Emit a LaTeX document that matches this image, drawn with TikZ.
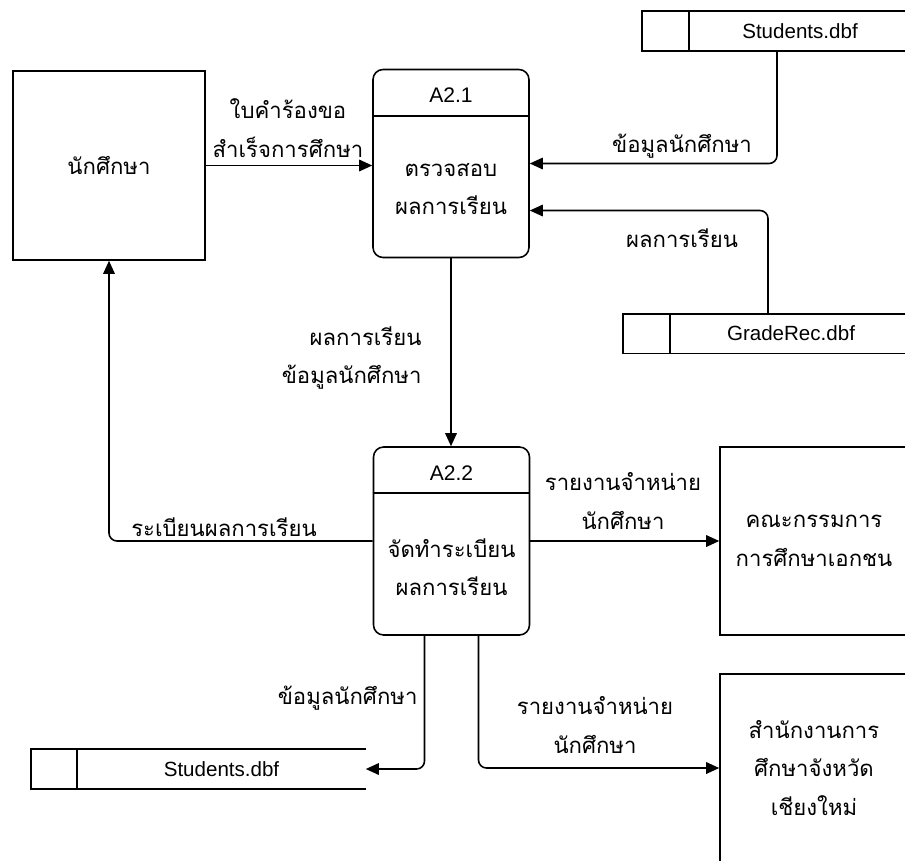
\documentclass[tikz,border=0pt]{standalone}
\usepackage{fontspec}
\setmainfont{Liberation Sans}
\newfontfamily\thaifont[Script=Thai]{Loma}
\usetikzlibrary{arrows.meta,calc}

\tikzset{
  thai/.style={font=\thaifont\fontsize{12.6}{22}\selectfont, align=center, inner sep=1pt},
  entity/.style={draw, thai, minimum width=3.76cm, minimum height=3.76cm},
  process/.style={draw, rounded corners=0.2cm, minimum width=3.12cm, minimum height=3.76cm},
  store/.style={minimum height=0.76cm, inner sep=0pt, font=\fontsize{11.7}{14}\selectfont},
  flow/.style={-{Triangle[length=0.26cm,width=0.23cm]}, rounded corners=0.16cm}
}

\begin{document}
\begin{tikzpicture}[x=0.02cm, y=-0.02cm, line width=0.9pt]
\clip (0,0) rectangle (905,860);

\node [entity, minimum width=3.84cm, minimum height=3.78cm] (stu) at (109,165.5) {นักศึกษา};
\node [entity] (ent1) at (814,541) {คณะกรรมการ\\การศึกษาเอกชน};
\node [entity] (ent2) at (814,768) {สำนักงานการ\\ศึกษาจังหวัด\\เชียงใหม่};

\node [process] (a21) at (451,163.5) {};
\node [font=\fontsize{12}{14}\selectfont] (a21id) at (451,95) {A2.1};
\node [thai] (a21txt) at (451,189) {ตรวจสอบ\\ผลการเรียน};
\draw ($(a21.north west)+(0,47)$) -- ($(a21.north east)+(0,47)$);

\node [process] (a22) at (451.5,541) {};
\node [font=\fontsize{12}{14}\selectfont] (a22id) at (451.5,473) {A2.2};
\node [thai] (a22txt) at (451.5,567) {จัดทำระเบียน\\ผลการเรียน};
\draw ($(a22.north west)+(0,47)$) -- ($(a22.north east)+(0,47)$);

\node [store, minimum width=4.4cm] (st1) at (800,31) {Students.dbf};
\draw ([xshift=-0.94cm]st1.north west) rectangle (st1.south west);
\draw (st1.north west) -- (st1.north east) (st1.south west) -- (st1.south east);

\node [store, minimum width=4.8cm] (gr) at (791,333.5) {GradeRec.dbf};
\draw ([xshift=-0.94cm]gr.north west) rectangle (gr.south west);
\draw (gr.north west) -- (gr.north east) (gr.south west) -- (gr.south east);

\node [store, minimum width=5.74cm] (st2) at (221.5,769) {Students.dbf};
\draw ([xshift=-0.92cm]st2.north west) rectangle (st2.south west);
\draw (st2.north west) -- (st2.north east) (st2.south west) -- (st2.south east);

\draw [flow] (stu.east) -- (stu.east -| a21.west);
\draw [flow] ([xshift=-0.46cm]st1.south) |- (a21.east);
\draw [flow] ([xshift=-0.46cm]gr.north) |- ($(a21.east)+(0,47)$);
\draw [flow] (a21.south) -- (a21.south |- a22.north);
\draw [flow] (a22.west) -| (stu.south);
\draw [flow] (a22.east) -- (a22.east -| ent1.west);
\draw [flow] ([xshift=-0.54cm]a22.south) |- (st2.east);
\draw [flow] ([xshift=0.54cm]a22.south) |- (ent2.west);

\node [thai] (lab1) at (288,128) {ใบคำร้องขอ\\สำเร็จการศึกษา};
\node [thai] (lab2) at (682,146) {ข้อมูลนักศึกษา};
\node [thai] (lab3) at (682,238) {ผลการเรียน};
\node [thai, align=right, anchor=east] (lab4) at (424,358) {ผลการเรียน\\ข้อมูลนักศึกษา};
\node [thai] (lab5) at (224,527) {ระเบียนผลการเรียน};
\node [thai] (lab6) at (623,501) {รายงานจำหน่าย\\นักศึกษา};
\node [thai] (lab7) at (595,725) {รายงานจำหน่าย\\นักศึกษา};
\node [thai, anchor=east] (lab8) at (420,698) {ข้อมูลนักศึกษา};
\end{tikzpicture}
\end{document}
